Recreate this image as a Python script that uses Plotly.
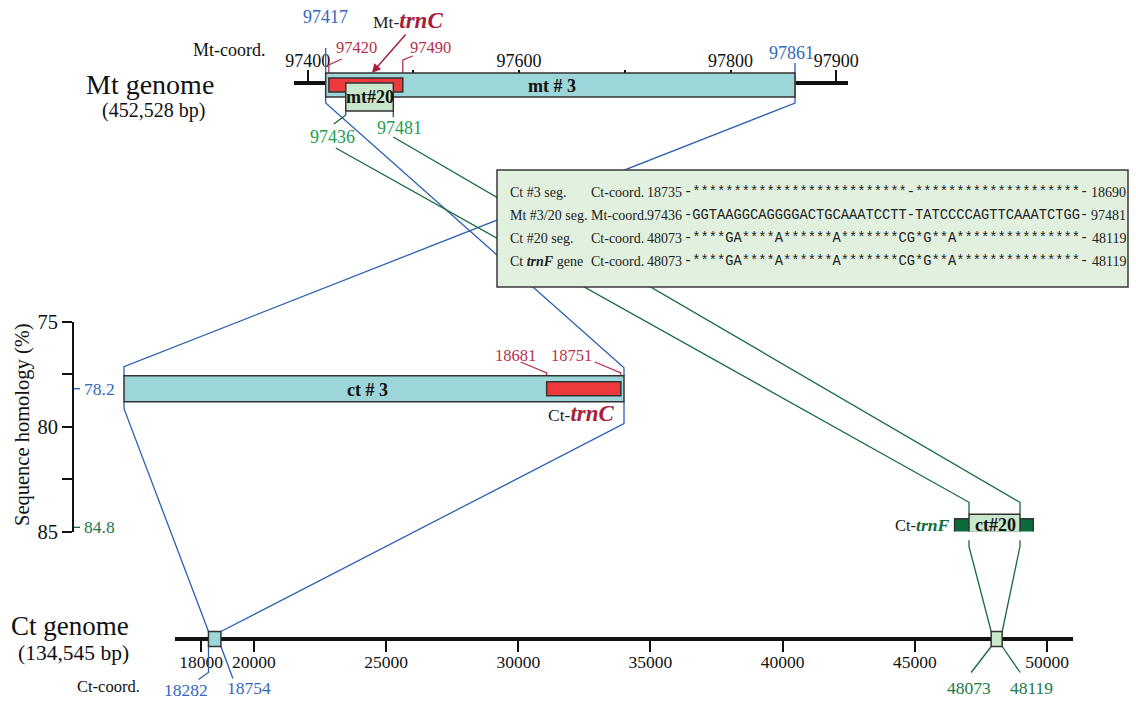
import plotly.graph_objects as go

W, H = 1136, 704
SERIF = "Liberation Serif"
MONO = "Liberation Mono"

# ---------------- data ----------------
mt_tick_vals = [97400, 97500, 97600, 97700, 97800, 97900]
mt_tick_text = ["97400", "", "97600", "", "97800", "97900"]
ct_tick_vals = [18000, 20000, 25000, 30000, 35000, 40000, 45000, 50000]
ct_tick_text = ["18000", "20000", "25000", "30000", "35000", "40000", "45000", "50000"]
hom_tick_vals = [75, 77.5, 80, 82.5, 85]
hom_tick_text = ["75", "", "80", "", "85"]

mt_genome_label = "(452,528 bp)"
ct_genome_label = "(134,545 bp)"

mt3_seg = [97417, 97861]
mt20_seg = [97436, 97481]
mt_trnC = [97420, 97490]
ct3_seg = [18282, 18754]
ct_trnC = [18681, 18751]
ct20_seg = [48073, 48119]
ct_trnF = [48060, 48131]
hom_ct3 = 78.2
hom_ct20 = 84.8

aln_names = ["Ct #3 seg.", "Mt #3/20 seg.", "Ct #20 seg.", "Ct <b><i>trnF</i></b> gene"]
aln_coord = ["Ct-coord.", "Mt-coord.", "Ct-coord.", "Ct-coord."]
aln_start = [18735, 97436, 48073, 48073]
aln_end = [18690, 97481, 48119, 48119]
aln_seq = [
    "-**************************-********************-",
    "-GGTAAGGCAGGGGACTGCAAATCCTT-TATCCCCAGTTCAAATCTGG-",
    "-****GA****A******A*******CG*G**A***************-",
    "-****GA****A******A*******CG*G**A***************-",
]

# ---------------- colours ----------------
BLUE = "#2c5fb2"
BLUE_TXT = "#3467bd"
GREEN_LINE = "#17693b"
GREEN_TXT = "#22a04f"
GREEN_DARK_TXT = "#1b7a4c"
RED_TXT = "#b8304a"
TRN_RED = "#a81f3c"
TEAL = "#9dd6d8"
RED_FILL = "#ee3a3c"
LGREEN = "#c9e7cb"
DGREEN = "#0b6b3a"
BOX_FILL = "#e1f0df"
EDGE = "#333333"
AXC = "#111111"

# ---------------- scales (pixel mapping of each axis) ----------------
MT_REF_BP, MT_REF_PX, MT_K = 97400, 307.7, 1.057
MT_DOM = (294, 848)
def mt_px(bp):
    return MT_REF_PX + (bp - MT_REF_BP) * MT_K
mt_range = [MT_REF_BP + (MT_DOM[0] - MT_REF_PX) / MT_K, MT_REF_BP + (MT_DOM[1] - MT_REF_PX) / MT_K]

CT_REF_BP, CT_REF_PX, CT_K = 18000, 201.0, 846 / 32000
CT_DOM = (175, 1073)
def ct_px(bp):
    return CT_REF_PX + (bp - CT_REF_BP) * CT_K
ct_range = [CT_REF_BP + (CT_DOM[0] - CT_REF_PX) / CT_K, CT_REF_BP + (CT_DOM[1] - CT_REF_PX) / CT_K]

Z3_PX = (124, 624)
Z3_DOM = (100, 650)
Z3_K = (Z3_PX[1] - Z3_PX[0]) / (ct3_seg[1] - ct3_seg[0])
def z3_px(bp):
    return Z3_PX[0] + (bp - ct3_seg[0]) * Z3_K
z3_range = [ct3_seg[0] + (Z3_DOM[0] - Z3_PX[0]) / Z3_K, ct3_seg[0] + (Z3_DOM[1] - Z3_PX[0]) / Z3_K]

Z20_PX = (969, 1020)
Z20_DOM = (930, 1075)
Z20_K = (Z20_PX[1] - Z20_PX[0]) / (ct20_seg[1] - ct20_seg[0])
def z20_px(bp):
    return Z20_PX[0] + (bp - ct20_seg[0]) * Z20_K
z20_range = [ct20_seg[0] + (Z20_DOM[0] - Z20_PX[0]) / Z20_K, ct20_seg[0] + (Z20_DOM[1] - Z20_PX[0]) / Z20_K]

HOM_TOP_PX, HOM_BOT_PX = 321.5, 531.5
HK = (HOM_BOT_PX - HOM_TOP_PX) / 10.0
def hom_py(h):
    return HOM_TOP_PX + (h - 75) * HK

HOM_AX_X = 73
MT_Y = 83
CT_Y = 639
BAR_H = 0.62
TRN_H = 0.33
TRNF_H = 0.41

# ---------------- figure ----------------
fig = go.Figure()
for xa, ya, xv, yv in [("x", "y", 10, 10), ("x2", "y", 97400, 10), ("x3", "y", 18000, 10),
                       ("x4", "y2", ct3_seg[0], 80), ("x5", "y2", ct20_seg[0], 80)]:
    fig.add_trace(go.Scatter(x=[xv], y=[yv], xaxis=xa, yaxis=ya, mode="markers",
                             marker=dict(opacity=0, size=1), hoverinfo="skip", showlegend=False))

shapes = []
annots = []

def path(pts, color, width=1.3):
    d = "M " + " L ".join(f"{x:.1f},{y:.1f}" for x, y in pts)
    shapes.append(dict(type="path", path=d, xref="x", yref="y",
                       line=dict(color=color, width=width), layer="above"))

def rect(xref, yref, x0, x1, y0, y1, fill, lw=1.5, lc=EDGE):
    shapes.append(dict(type="rect", xref=xref, yref=yref, x0=x0, x1=x1, y0=y0, y1=y1,
                       fillcolor=fill, line=dict(color=lc, width=lw), layer="above"))

def txt(x, y, s, size=16, color="black", xanchor="center", yanchor="middle", family=SERIF, angle=0):
    annots.append(dict(x=x, y=y, xref="x", yref="y", text=s, showarrow=False,
                       xanchor=xanchor, yanchor=yanchor, textangle=angle,
                       font=dict(family=family, size=size, color=color)))

# derived pixel positions
ct3_top = hom_py(hom_ct3 - BAR_H)
ct3_bot = hom_py(hom_ct3 + BAR_H)
ct20_top = hom_py(hom_ct20 - BAR_H)
ct20_bot = hom_py(hom_ct20 + BAR_H)
sbox_top, sbox_bot = CT_Y - 7.5, CT_Y + 7.5
c20 = sum(ct20_seg) / 2
half20 = max((ct20_seg[1] - ct20_seg[0]) / 2, 5.5 / CT_K)
b20_l, b20_r = ct_px(c20 - half20), ct_px(c20 + half20)

# ---- connectors (blue: ct #3, green: ct #20) ----
path([(mt_px(mt3_seg[0]), 48), (mt_px(mt3_seg[0]), 103),
      (z3_px(ct3_seg[1]), ct3_top - 8), (z3_px(ct3_seg[1]), ct3_top)], BLUE)
path([(mt_px(mt3_seg[1]), 63), (mt_px(mt3_seg[1]), 103),
      (z3_px(ct3_seg[0]), ct3_top - 9), (z3_px(ct3_seg[0]), ct3_top)], BLUE)
path([(z3_px(ct3_seg[0]), ct3_bot), (z3_px(ct3_seg[0]), ct3_bot + 7),
      (ct_px(ct3_seg[0]), sbox_top)], BLUE)
path([(z3_px(ct3_seg[1]), ct3_bot), (z3_px(ct3_seg[1]), ct3_bot + 22),
      (ct_px(ct3_seg[1]), sbox_top)], BLUE)
path([(ct_px(ct3_seg[0]), sbox_bot), (ct_px(ct3_seg[0]), sbox_bot + 26),
      (ct_px(ct3_seg[0]) - 10, sbox_bot + 33)], BLUE)
path([(ct_px(ct3_seg[1]), sbox_bot), (ct_px(ct3_seg[1]) + 12, sbox_bot + 32)], BLUE)

x436, x481 = mt_px(mt20_seg[0]), mt_px(mt20_seg[1])
path([(x436, 111), (x436, 115), (x436 - 12, 124)], GREEN_LINE)
path([(x436 - 10, 148), (z20_px(ct20_seg[0]), ct20_top - 12), (z20_px(ct20_seg[0]), ct20_top)], GREEN_LINE)
path([(x481, 111), (x481, 117)], GREEN_LINE)
path([(x481, 137), (z20_px(ct20_seg[1]), ct20_top - 12), (z20_px(ct20_seg[1]), ct20_top)], GREEN_LINE)
path([(z20_px(ct20_seg[0]), ct20_bot), (z20_px(ct20_seg[0]), ct20_bot + 6), (b20_l, sbox_top)], GREEN_LINE)
path([(z20_px(ct20_seg[1]), ct20_bot), (z20_px(ct20_seg[1]), ct20_bot + 6), (b20_r, sbox_top)], GREEN_LINE)
path([(b20_l, sbox_bot), (b20_l - 20, sbox_bot + 26)], GREEN_LINE)
path([(b20_r, sbox_bot), (b20_r + 18, sbox_bot + 26)], GREEN_LINE)

# red leaders
x420, x490 = mt_px(mt_trnC[0]), mt_px(mt_trnC[1])
path([(x420, 78), (x420, 65), (x420 + 13, 59)], RED_TXT, 1.3)
path([(x490, 78), (x490, 60), (x490 + 10, 56)], RED_TXT, 1.3)
t_top = hom_py(hom_ct3 - TRN_H)
xa, xb = z3_px(ct_trnC[0]), z3_px(ct_trnC[1])
path([(xa, t_top), (xa, 373), (xa - 26, 362)], RED_TXT, 1.3)
path([(xb, t_top), (xb, 373), (xb - 26, 362)], RED_TXT, 1.3)

# homology marks on the axis
path([(HOM_AX_X + 1, hom_py(hom_ct3)), (HOM_AX_X + 7, hom_py(hom_ct3))], BLUE, 1.3)
path([(HOM_AX_X + 1, hom_py(hom_ct20)), (HOM_AX_X + 7, hom_py(hom_ct20))], GREEN_LINE, 1.3)

# ---- bars ----
rect("x2", "y", mt3_seg[0], mt3_seg[1], 73, 97, TEAL)
rect("x2", "y", mt_trnC[0], mt_trnC[1], 78, 92, RED_FILL)
rect("x2", "y", mt20_seg[0], mt20_seg[1], 83, 111, LGREEN)

rect("x4", "y2", ct3_seg[0], ct3_seg[1], hom_ct3 - BAR_H, hom_ct3 + BAR_H, TEAL)
rect("x4", "y2", ct_trnC[0], ct_trnC[1], hom_ct3 - TRN_H, hom_ct3 + TRN_H, RED_FILL)
rect("x5", "y2", ct_trnF[0], ct_trnF[1], hom_ct20 - TRNF_H, hom_ct20 + TRNF_H, DGREEN)
rect("x5", "y2", ct20_seg[0], ct20_seg[1], hom_ct20 - BAR_H, hom_ct20 + BAR_H, LGREEN)

rect("x3", "y", ct3_seg[0], ct3_seg[1], sbox_top, sbox_bot, TEAL)
rect("x3", "y", c20 - half20, c20 + half20, sbox_top, sbox_bot, LGREEN)

# ---- alignment box ----
rect("x", "y", 497, 1128, 170, 287, BOX_FILL, 1.5, "#3a3a3a")
row_y = [192, 215, 238, 261]
for i, yy in enumerate(row_y):
    txt(508, yy, aln_names[i], 14, "#222", xanchor="left")
    txt(589, yy, aln_coord[i], 14, "#222", xanchor="left")
    txt(684, yy, str(aln_start[i]), 14, "#222", xanchor="right")
    txt(682, yy, aln_seq[i], 13.75, "#222", xanchor="left", family=MONO)
    txt(1128, yy, str(aln_end[i]), 14, "#222", xanchor="right")

# ---- labels ----
txt(150, 84, "Mt genome", 28, "#111")
txt(153, 110, mt_genome_label, 20, "#111")
txt(70, 626, "Ct genome", 27, "#111")
txt(73, 653, ct_genome_label, 21.5, "#111")
txt(229, 50, "Mt-coord.", 18, "#111")
txt(108, 686, "Ct-coord.", 16.5, "#111")
txt(22, 425, "Sequence homology (%)", 20.5, "#111", angle=-90)

txt(mt_px(mt3_seg[0]), 17, str(mt3_seg[0]), 18, BLUE_TXT)
txt(mt_px(mt3_seg[1]) - 3, 53, str(mt3_seg[1]), 18, BLUE_TXT)
txt(x420 + 28, 47, str(mt_trnC[0]), 16.5, RED_TXT)
txt(x490 + 28, 47, str(mt_trnC[1]), 16.5, RED_TXT)
txt(x436 - 13, 137, str(mt20_seg[0]), 18, GREEN_TXT)
txt(x481 + 6, 128, str(mt20_seg[1]), 18, GREEN_TXT)
txt(408, 20, f"Mt-<span style='font-size:23px;color:{TRN_RED}'><b><i>trnC</i></b></span>", 17.5, "#222")
annots.append(dict(x=mt_px(sum(mt_trnC) / 2) + 6, y=73, ax=407, ay=33, xref="x", yref="y",
                   axref="x", ayref="y", text="", showarrow=True, arrowhead=2, arrowsize=1.2,
                   arrowwidth=1.5, arrowcolor=TRN_RED))

txt((mt_px(mt3_seg[0]) + mt_px(mt3_seg[1])) / 2 - 8, 86, "<b>mt # 3</b>", 18, "#111")
txt((x436 + x481) / 2, 97, "<b>mt#20</b>", 18, "#111")
txt((z3_px(ct3_seg[0]) + z3_px(ct3_seg[1])) / 2 - 7, hom_py(hom_ct3) + 1, "<b>ct # 3</b>", 18, "#111")
txt((z20_px(ct20_seg[0]) + z20_px(ct20_seg[1])) / 2 + 1, hom_py(hom_ct20) - 2, "<b>ct#20</b>", 18, "#111")

txt(xa - 31, 355, str(ct_trnC[0]), 16.5, RED_TXT)
txt(xb - 49, 355, str(ct_trnC[1]), 16.5, RED_TXT)
txt(581, 413, f"Ct-<span style='font-size:23px;color:{TRN_RED}'><b><i>trnC</i></b></span>", 17.5, "#222")
txt(951, hom_py(hom_ct20) - 2, f"Ct-<span style='font-size:17.5px;color:{DGREEN}'><b><i>trnF</i></b></span>", 16.5, "#222", xanchor="right")

txt(HOM_AX_X + 9, hom_py(hom_ct3), str(hom_ct3), 17.5, BLUE_TXT, xanchor="left")
txt(HOM_AX_X + 9, hom_py(hom_ct20), str(hom_ct20), 17.5, GREEN_DARK_TXT, xanchor="left")

txt(ct_px(ct3_seg[0]) - 22, 690, str(ct3_seg[0]), 17.5, BLUE_TXT)
txt(ct_px(ct3_seg[1]) + 28, 688, str(ct3_seg[1]), 17.5, BLUE_TXT)
txt(b20_l - 22, 688, str(ct20_seg[0]), 17.5, GREEN_DARK_TXT)
txt(b20_r + 29, 688, str(ct20_seg[1]), 17.5, GREEN_DARK_TXT)

common_axis = dict(showgrid=False, zeroline=False, fixedrange=True, automargin=False)
fig.update_layout(
    template="none",
    width=W, height=H, margin=dict(l=0, r=0, t=0, b=0, pad=0), autosize=False,
    paper_bgcolor="white", plot_bgcolor="rgba(0,0,0,0)", showlegend=False,
    xaxis=dict(range=[0, W], domain=[0, 1], visible=False, anchor="y", **common_axis),
    yaxis=dict(range=[H, 0], domain=[0, 1], visible=False, anchor="x", **common_axis),
    xaxis2=dict(domain=[MT_DOM[0] / W, MT_DOM[1] / W], range=mt_range, anchor="free",
                position=1 - MT_Y / H, side="top", showline=True, linewidth=4, linecolor=AXC,
                ticks="outside", ticklen=11, tickwidth=1.5, tickcolor=AXC, ticklabelstandoff=-4,
                tickmode="array", tickvals=mt_tick_vals, ticktext=mt_tick_text,
                tickfont=dict(family=SERIF, size=18, color=AXC), **common_axis),
    xaxis3=dict(domain=[CT_DOM[0] / W, CT_DOM[1] / W], range=ct_range, anchor="free",
                position=1 - CT_Y / H, side="bottom", showline=True, linewidth=4, linecolor=AXC,
                ticks="outside", ticklen=11, tickwidth=1.5, tickcolor=AXC, ticklabelstandoff=-5,
                tickmode="array", tickvals=ct_tick_vals, ticktext=ct_tick_text,
                tickfont=dict(family=SERIF, size=17.5, color=AXC), **common_axis),
    xaxis4=dict(domain=[Z3_DOM[0] / W, Z3_DOM[1] / W], range=z3_range, visible=False, anchor="y2", **common_axis),
    xaxis5=dict(domain=[Z20_DOM[0] / W, Z20_DOM[1] / W], range=z20_range, visible=False, anchor="y2", **common_axis),
    yaxis2=dict(domain=[1 - HOM_BOT_PX / H, 1 - HOM_TOP_PX / H], range=[85, 75], anchor="free",
                position=HOM_AX_X / W, side="left", showline=True, linewidth=2, linecolor=AXC,
                ticks="outside", ticklen=10, tickwidth=1.5, tickcolor=AXC,
                tickmode="array", tickvals=hom_tick_vals, ticktext=hom_tick_text,
                tickfont=dict(family=SERIF, size=20.5, color=AXC), **common_axis),
    shapes=shapes, annotations=annots,
)

fig.write_html("out.html", config={"displayModeBar": False},
               post_script="document.body.style.margin='0px';document.body.style.overflow='hidden';")
